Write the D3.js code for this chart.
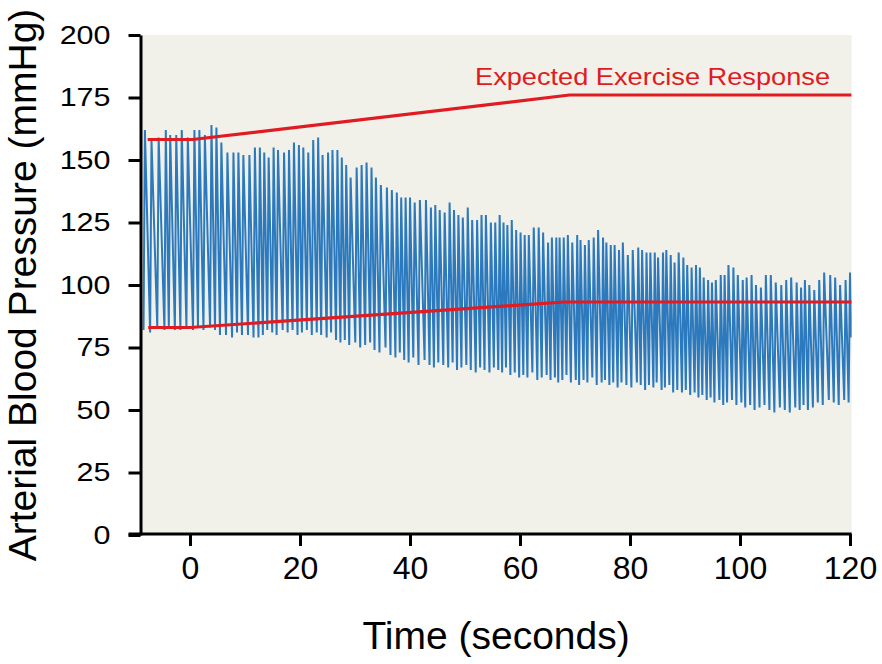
<!DOCTYPE html>
<html>
<head>
<meta charset="utf-8">
<script src="https://cdn.jsdelivr.net/npm/d3@7"></script>
<style>
  html, body { margin: 0; padding: 0; background: #ffffff; }
  svg { display: block; font-family: "Liberation Sans", Arial, sans-serif; }
</style>
</head>
<body>
<svg id="chart" width="882" height="664"></svg>
<script>
// ---- data ----
const beatTimes = [
  -8.2, -7.0, -5.7, -4.4, -3.6, -2.5, -1.5, -0.4, 0.8, 1.7, 2.7, 3.9, 4.8, 5.7, 6.8, 7.9, 8.8, 9.7, 10.8, 11.8,
  12.7, 13.5, 14.3, 15.2, 16.0, 17.1, 18.0, 18.9, 19.8, 20.6, 21.5, 22.4, 23.3,
  24.1, 25.1, 25.9, 26.8, 27.6, 28.4, 29.2, 30.3, 31.2, 32.1, 33.0, 33.8, 34.7, 35.8, 36.7, 37.6, 38.4, 39.2, 40.0, 40.85,
  41.8, 42.9, 43.8, 44.6, 45.4, 46.3, 47.2, 48.0, 48.8, 49.6, 50.5, 51.3, 52.2, 53.0, 53.8, 54.7, 55.5,
  56.3, 57.0, 57.7, 58.5, 59.3, 60.1, 60.85, 61.6, 62.5, 63.4, 64.2, 65.1, 65.8, 66.6, 67.2, 67.95, 68.7, 69.5, 70.4, 71.0,
  71.8, 72.5, 73.4, 74.2, 75.1, 75.7, 76.5, 77.2, 78.0, 78.7, 79.6, 80.5, 81.5, 82.2, 83.0, 83.7, 84.5, 85.1, 86.0, 86.6, 87.4, 88.1,
  88.85, 89.7, 90.4, 91.2, 92.0, 92.7, 93.4, 94.2, 94.9, 95.6, 96.5, 97.2, 97.9, 98.8, 99.6, 100.5, 101.2, 102.1, 102.9, 103.8,
  104.7, 105.6, 106.5, 107.5, 108.4, 109.3, 110.3, 111.1, 111.8, 112.6, 113.5, 114.4, 115.3, 116.4, 117.3, 118.2, 119.2, 120.0
];
const systolic = [
  162, 158, 159, 162, 160, 160, 162, 159, 162, 162, 160, 164, 163, 157, 153, 153, 153, 152, 152, 155,
  155, 153, 151, 155, 154, 153, 154, 157, 156, 155, 153, 158, 159,
  152, 153, 154, 154, 151, 148, 143, 147, 148, 149, 147, 143, 140, 139, 138, 137, 135, 135, 135, 133,
  134, 134, 131, 132, 130, 129, 133, 130, 128, 127, 131, 126, 126, 128, 128, 125, 125,
  128, 125, 124, 126, 122, 121, 120, 120, 123, 123, 121, 117, 119, 119, 119, 119, 120, 117, 120, 118,
  116, 118, 119, 122, 119, 117, 116, 116, 114, 117, 112, 114, 115, 114, 113, 113, 113, 111, 113, 114, 112, 109,
  113, 111, 108, 107, 108, 107, 103, 102, 101, 102, 104, 104, 108, 107, 104, 102, 103, 104, 100, 99,
  104, 104, 101, 100, 102, 103, 101, 99, 102, 100, 98, 102, 105, 104, 103, 100, 102, 105
];
const diastolic = [
  82, 81, 83, 82, 83, 82, 82, 83, 82, 83, 82, 83, 82, 80, 80, 79, 81, 80, 80, 79,
  79, 80, 82, 81, 80, 82, 81, 82, 80, 81, 82, 80, 81,
  80, 79, 81, 78, 77, 78, 76, 77, 75, 76, 77, 74, 73, 75, 72, 71, 73, 70, 69, 71,
  68, 70, 68, 67, 69, 68, 67, 69, 66, 67, 68, 66, 65, 67, 66, 65, 67,
  66, 65, 67, 64, 65, 63, 64, 63, 65, 62, 63, 64, 62, 63, 61, 62, 64, 61, 62, 60,
  62, 61, 63, 60, 61, 62, 60, 61, 59, 61, 60, 59, 61, 60, 58, 60, 59, 61, 58, 59, 60, 57,
  58, 57, 58, 56, 57, 55, 56, 54, 55, 53, 54, 52, 53, 54, 52, 53, 51, 52, 50, 51,
  52, 50, 49, 51, 50, 49, 51, 50, 52, 50, 51, 53, 52, 54, 53, 52, 54, 53
];
const traceEndTime = 120.25;
const traceEndValue = 79;

const upperTimes = [-7.7, 0.5, 69, 120.3];
const upperValues = [158.2, 158.2, 176, 176];
const lowerTimes = [-7.6, 0, 68, 120.3];
const lowerValues = [83, 83, 93.2, 93.2];

const xTicks = [0, 20, 40, 60, 80, 100, 120];
const yTicks = [0, 25, 50, 75, 100, 125, 150, 175, 200];
const xDomainStart = -9;
const xDomainEnd = 120.3;

const annotationText = "Expected Exercise Response";
const xTitle = "Time (seconds)";
const yTitle = "Arterial Blood Pressure (mmHg)";

// ---- drawing ----
const svg = d3.select("#chart");
const x = d3.scaleLinear().domain([0, 120]).range([190, 850]);
const y = d3.scaleLinear().domain([0, 200]).range([535, 35]);

const left = x(xDomainStart), right = x(xDomainEnd);

svg.append("rect")
  .attr("x", left).attr("y", y(200))
  .attr("width", right - left).attr("height", y(0) - y(200))
  .attr("fill", "#f1f0e9");

svg.append("clipPath").attr("id", "plotClip")
  .append("rect")
  .attr("x", left).attr("y", y(200))
  .attr("width", right - left).attr("height", y(0) - y(200));

// blood pressure trace
const tracePts = [];
beatTimes.forEach((t, i) => {
  tracePts.push([t - 0.25, diastolic[i]]);
  tracePts.push([t, systolic[i]]);
});
tracePts.push([traceEndTime, traceEndValue]);

const line = d3.line().x(d => x(d[0])).y(d => y(d[1]));

svg.append("path")
  .attr("clip-path", "url(#plotClip)")
  .attr("d", line(tracePts))
  .attr("fill", "none")
  .attr("stroke", "#2c7abd")
  .attr("stroke-width", 2)
  .attr("stroke-linejoin", "miter");

// expected response lines
const upperPts = upperTimes.map((t, i) => [t, upperValues[i]]);
const lowerPts = lowerTimes.map((t, i) => [t, lowerValues[i]]);
[upperPts, lowerPts].forEach(pts => {
  svg.append("path")
    .attr("clip-path", "url(#plotClip)")
    .attr("d", line(pts))
    .attr("fill", "none")
    .attr("stroke", "#e01b22")
    .attr("stroke-width", 3.2);
});

svg.append("text")
  .attr("x", 475).attr("y", 85)
  .attr("font-size", 24)
  .attr("fill", "#e01b22")
  .attr("textLength", 355)
  .attr("lengthAdjust", "spacingAndGlyphs")
  .text(annotationText);

// axes
const yAxis = d3.axisLeft(y).tickValues(yTicks).tickSize(12).tickSizeOuter(0);
const gy = svg.append("g").attr("transform", `translate(${left},0)`).call(yAxis);
gy.select(".domain").attr("stroke", "#000").attr("stroke-width", 3);
gy.selectAll(".tick line").attr("stroke", "#000").attr("stroke-width", 3);
gy.selectAll(".tick text")
  .attr("font-size", 25)
  .attr("font-family", "Liberation Sans, Arial, sans-serif")
  .attr("fill", "#000")
  .attr("x", -30 / 1.22)
  .attr("transform", "scale(1.22,1)");

const xAxis = d3.axisBottom(x).tickValues(xTicks).tickSize(12).tickSizeOuter(0);
const gx = svg.append("g").attr("transform", `translate(0,${y(0) - 1})`).call(xAxis);
gx.select(".domain").remove();
gx.append("line")
  .attr("x1", left - 12).attr("x2", right)
  .attr("y1", 0).attr("y2", 0)
  .attr("stroke", "#000").attr("stroke-width", 3);
gx.selectAll(".tick line").attr("stroke", "#000").attr("stroke-width", 3);
gx.selectAll(".tick text")
  .attr("font-size", 32)
  .attr("font-family", "Liberation Sans, Arial, sans-serif")
  .attr("fill", "#000")
  .attr("y", 22);

// titles
svg.append("text")
  .attr("x", (left + right) / 2).attr("y", 649)
  .attr("text-anchor", "middle")
  .attr("font-size", 39)
  .attr("fill", "#000")
  .text(xTitle);

svg.append("text")
  .attr("transform", `translate(36,${285}) rotate(-90)`)
  .attr("text-anchor", "middle")
  .attr("font-size", 39)
  .attr("fill", "#000")
  .text(yTitle);
</script>
</body>
</html>
